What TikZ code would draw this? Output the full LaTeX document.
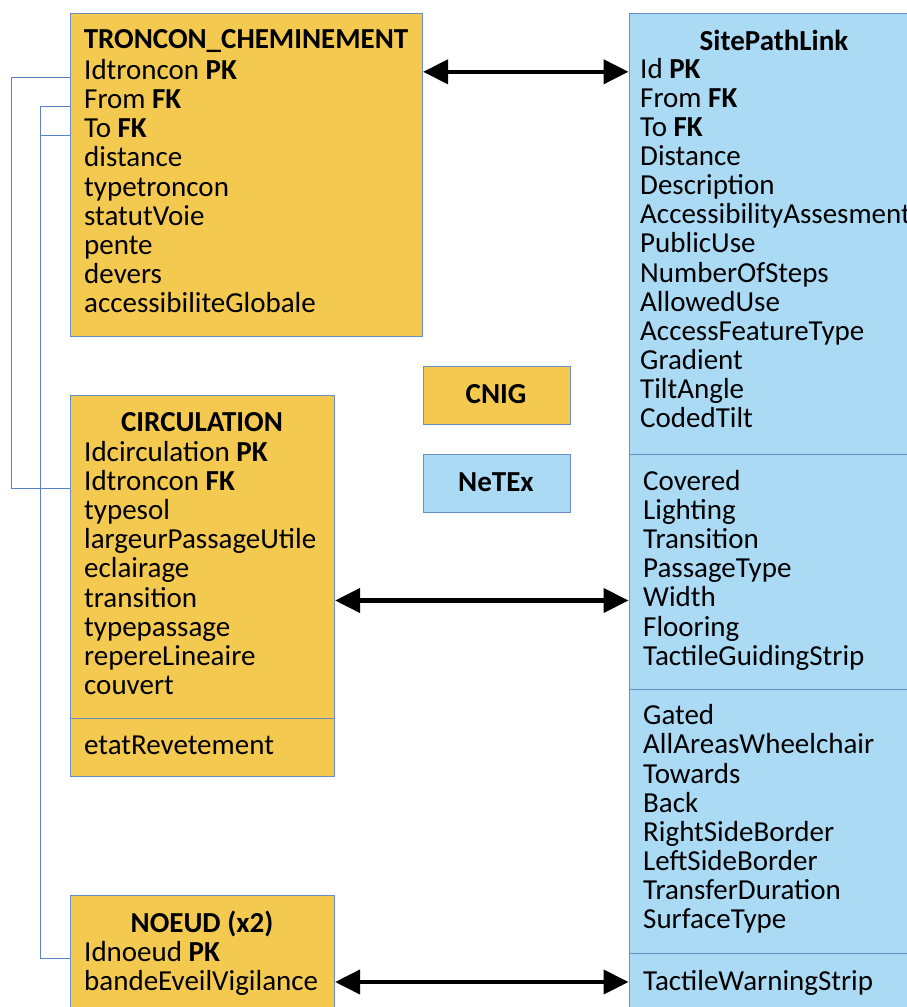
\documentclass[tikz,border=0pt]{standalone}
\usepackage{fontspec}
\setmainfont{Carlito}
\usetikzlibrary{arrows.meta}
\definecolor{cnigfill}{HTML}{F3C94F}
\definecolor{netexfill}{HTML}{ABDAF5}
\definecolor{edge}{HTML}{6A8DC4}
\definecolor{linkblue}{HTML}{5A82C8}
\tikzset{
  ybox/.style={draw=edge, line width=1.1pt, fill=cnigfill, anchor=north west, inner sep=0pt},
  bbox/.style={draw=edge, line width=1.1pt, fill=netexfill, anchor=north west, inner sep=0pt},
  row/.style={anchor=base west, inner sep=0pt, font=\fontsize{29}{29}\selectfont},
  ttl/.style={anchor=base, inner sep=0pt, font=\fontsize{29}{29}\selectfont\bfseries},
  link/.style={draw=linkblue, line width=0.8pt},
  arr/.style={line width=4.2pt, {Triangle[length=25pt,width=24pt]}-{Triangle[length=25pt,width=24pt]}},
}
\begin{document}
\begin{tikzpicture}[x=1pt,y=-1pt]
\useasboundingbox (0,0) rectangle (907,1007);
\clip (0,0) rectangle (907,1007);
% boxes
\node[ybox, minimum width=352pt, minimum height=323pt] (tronc) at (70,13) {};
\node[ybox, minimum width=264pt, minimum height=323pt] (circ) at (70,395) {};
\node[ybox, minimum width=264pt, minimum height=58pt] (circb) at (70,718) {};
\node[ybox, minimum width=264pt, minimum height=140pt] (noeud) at (70,895) {};
\node[bbox, minimum width=292pt, minimum height=441pt] (splA) at (628.5,13) {};
\node[bbox, minimum width=292pt, minimum height=235pt] (splB) at (628.5,454) {};
\node[bbox, minimum width=292pt, minimum height=264pt] (splC) at (628.5,689) {};
\node[bbox, minimum width=292pt, minimum height=80pt] (splD) at (628.5,953) {};
\node[ybox, minimum width=147pt, minimum height=58pt] (cnig) at (422.5,366) {};
\node[bbox, minimum width=147pt, minimum height=58pt] (netex) at (422.5,454) {};
\node[ttl] (cnigt) at (496,403) {CNIG};
\node[ttl] (netext) at (496,491) {NeTEx};
% TRONCON
\node[ttl] (trt) at (246,48.3) {TRONCON\_CHEMINEMENT};
\foreach \t [count=\i] in {Idtroncon \textbf{PK},From \textbf{FK},To \textbf{FK},distance,typetroncon,statutVoie,pente,devers,accessibiliteGlobale}
  \node[row] (tr\i) at (84,{79.3+29.2*(\i-1)}) {\t};
% CIRCULATION
\node[ttl] (cit) at (202,431) {CIRCULATION};
\foreach \t [count=\i] in {Idcirculation \textbf{PK},Idtroncon \textbf{FK},typesol,largeurPassageUtile,eclairage,transition,typepassage,repereLineaire,couvert}
  \node[row] (ci\i) at (84,{461.5+29.1*(\i-1)}) {\t};
\node[row] (ci10) at (84,754.5) {etatRevetement};
% NOEUD
\node[ttl] (not) at (202,932.3) {NOEUD (x2)};
\node[row] (no1) at (84,961) {Idnoeud \textbf{PK}};
\node[row] (no2) at (84,990) {bandeEveilVigilance};
% SitePathLink
\node[ttl] (spt) at (774,50) {SitePathLink};
\foreach \t [count=\i] in {Id \textbf{PK},From \textbf{FK},To \textbf{FK},Distance,Description,AccessibilityAssesment,PublicUse,NumberOfSteps,AllowedUse,AccessFeatureType,Gradient,TiltAngle,CodedTilt}
  \node[row] (sa\i) at (640,{78.3+29.1*(\i-1)}) {\t};
\foreach \t [count=\i] in {Covered,Lighting,Transition,PassageType,Width,Flooring,TactileGuidingStrip}
  \node[row] (sb\i) at (643,{490.5+29.1*(\i-1)}) {\t};
\foreach \t [count=\i] in {Gated,AllAreasWheelchair,Towards,Back,RightSideBorder,LeftSideBorder,TransferDuration,SurfaceType}
  \node[row] (sc\i) at (643,{724.8+29.1*(\i-1)}) {\t};
\node[row] (sd1) at (643,990) {TactileWarningStrip};
% arrow levels
\coordinate (lv1) at ([yshift=7.5pt]tr1.base);
\coordinate (lv2) at ([yshift=6.5pt]ci6.base);
\coordinate (lv3) at ([yshift=8pt]no2.base);
% arrows
\draw[arr] (tronc.east |- lv1) -- (splA.west |- lv1);
\draw[arr] (circ.east |- lv2) -- (splB.west |- lv2);
\draw[arr] (noeud.east |- lv3) -- (splD.west |- lv3);
% left links
\draw[link] (tronc.west |- tr1.mid) -- ++(-59,0) |- (circ.west |- ci2.mid);
\draw[link] (tronc.west |- tr2.mid) -- ++(-30,0) |- (noeud.west |- no1.mid);
\draw[link] (tronc.west |- tr3.mid) -- ++(-30,0);
\end{tikzpicture}
\end{document}
